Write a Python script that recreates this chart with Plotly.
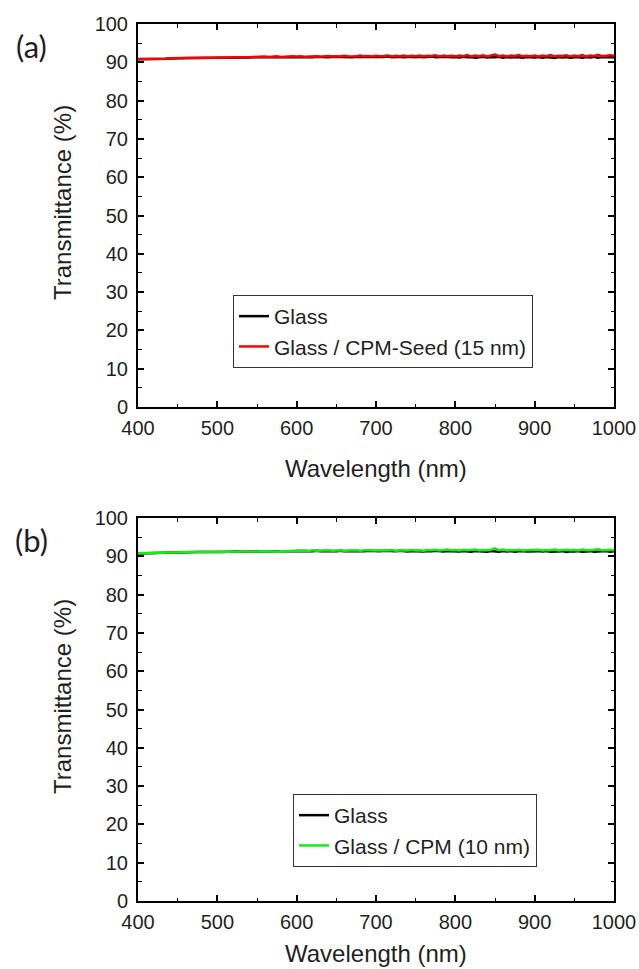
import plotly.graph_objects as go

# Sampling grid of the spectrophotometer scans (nm)
wavelength = list(range(400, 1001, 5))

# Panel (a): bare glass vs glass coated with CPM-Seed (15 nm), transmittance in %
glass_a = [
    90.8, 90.8, 90.8, 90.8, 90.85, 90.85, 90.9, 90.9,
    91.0, 91.05, 91.05, 91.05, 91.1, 91.1, 91.1, 91.1, 91.15, 91.1, 91.15, 91.15,
    91.15, 91.2, 91.15, 91.2, 91.2, 91.2, 91.25, 91.2, 91.25, 91.3,
    91.3, 91.25, 91.35, 91.3, 91.35, 91.3, 91.4, 91.35, 91.3, 91.4,
    91.35, 91.4, 91.3, 91.4, 91.35, 91.45, 91.35, 91.4, 91.3, 91.45,
    91.4, 91.35, 91.45, 91.4, 91.3, 91.45, 91.4, 91.5, 91.35, 91.4,
    91.45, 91.35, 91.4, 91.5, 91.35, 91.4, 91.45, 91.3, 91.4, 91.45,
    91.35, 91.45, 91.3, 91.4, 91.5, 91.3, 91.4, 91.35, 91.45, 91.3,
    91.4, 91.25, 91.45, 91.3, 91.4, 91.2, 91.35, 91.45, 91.25, 91.4,
    91.3, 91.45, 91.2, 91.35, 91.25, 91.4, 91.3, 91.2, 91.4, 91.3,
    91.25, 91.4, 91.2, 91.35, 91.3, 91.15, 91.4, 91.25, 91.35, 91.2,
    91.3, 91.4, 91.2, 91.35, 91.25, 91.45, 91.2, 91.35, 91.3, 91.25,
    91.3,
]
seed_a = [
    90.85, 90.85, 90.9, 90.85, 90.9, 90.9, 90.95, 90.95,
    91.05, 91.1, 91.05, 91.1, 91.15, 91.1, 91.15, 91.15, 91.2, 91.15, 91.2, 91.2,
    91.25, 91.2, 91.3, 91.25, 91.3, 91.35, 91.3, 91.4, 91.35, 91.4,
    91.45, 91.35, 91.5, 91.4, 91.45, 91.55, 91.4, 91.5, 91.45, 91.55,
    91.5, 91.6, 91.45, 91.55, 91.5, 91.6, 91.45, 91.55, 91.65, 91.5,
    91.6, 91.5, 91.7, 91.55, 91.6, 91.5, 91.75, 91.55, 91.65, 91.5,
    91.7, 91.55, 91.65, 91.8, 91.5, 91.7, 91.6, 91.75, 91.55, 91.7,
    91.6, 91.8, 91.55, 91.7, 91.65, 91.85, 91.5, 91.75, 91.6, 91.7,
    91.55, 91.8, 91.6, 91.9, 91.5, 91.75, 91.6, 91.85, 91.55, 91.7,
    92.0, 91.6, 91.8, 91.5, 91.75, 91.65, 91.9, 91.55, 91.7, 91.6,
    91.8, 91.5, 91.75, 91.6, 91.9, 91.55, 91.7, 91.65, 91.85, 91.5,
    91.75, 91.6, 91.9, 91.55, 91.8, 91.65, 91.95, 91.6, 91.75, 91.85,
    91.7,
]

# Panel (b): bare glass vs glass coated with CPM (10 nm), transmittance in %
glass_b = [
    90.75, 90.8, 90.8, 90.8, 90.8, 90.85, 90.85, 90.9,
    90.95, 91.0, 91.0, 91.05, 91.05, 91.05, 91.1, 91.1, 91.1, 91.15, 91.1, 91.15,
    91.15, 91.15, 91.2, 91.2, 91.2, 91.25, 91.2, 91.25, 91.3, 91.25,
    91.3, 91.3, 91.25, 91.35, 91.3, 91.35, 91.3, 91.4, 91.35, 91.3,
    91.4, 91.35, 91.3, 91.4, 91.35, 91.45, 91.3, 91.4, 91.35, 91.4,
    91.35, 91.45, 91.3, 91.4, 91.35, 91.45, 91.4, 91.3, 91.45, 91.35,
    91.4, 91.3, 91.45, 91.35, 91.4, 91.3, 91.45, 91.35, 91.25, 91.4,
    91.35, 91.45, 91.25, 91.4, 91.3, 91.45, 91.35, 91.25, 91.4, 91.3,
    91.35, 91.25, 91.4, 91.3, 91.2, 91.4, 91.3, 91.35, 91.2, 91.4,
    91.3, 91.2, 91.4, 91.25, 91.35, 91.2, 91.3, 91.4, 91.25, 91.3,
    91.2, 91.35, 91.25, 91.4, 91.2, 91.3, 91.25, 91.35, 91.15, 91.3,
    91.25, 91.4, 91.2, 91.3, 91.35, 91.2, 91.3, 91.25, 91.4, 91.2,
    91.3,
]
cpm_b = [
    90.8, 90.85, 90.85, 90.85, 90.9, 90.9, 90.9, 90.95,
    91.0, 91.0, 91.05, 91.05, 91.05, 91.1, 91.1, 91.1, 91.15, 91.1, 91.15, 91.15,
    91.15, 91.2, 91.15, 91.2, 91.2, 91.2, 91.25, 91.2, 91.25, 91.25,
    91.25, 91.3, 91.25, 91.3, 91.3, 91.25, 91.3, 91.35, 91.3, 91.35,
    91.45, 91.4, 91.5, 91.4, 91.55, 91.45, 91.5, 91.4, 91.55, 91.45,
    91.5, 91.6, 91.45, 91.55, 91.5, 91.6, 91.45, 91.55, 91.65, 91.5,
    91.55, 91.45, 91.6, 91.5, 91.65, 91.45, 91.55, 91.6, 91.5, 91.65,
    91.5, 91.6, 91.45, 91.65, 91.55, 91.7, 91.5, 91.6, 91.75, 91.55,
    91.65, 91.5, 91.7, 91.55, 91.6, 91.75, 91.5, 91.65, 91.55, 91.7,
    92.05, 91.6, 91.75, 91.5, 91.65, 91.55, 91.7, 91.5, 91.6, 91.65,
    91.55, 91.7, 91.5, 91.65, 91.6, 91.75, 91.5, 91.6, 91.7, 91.55,
    91.65, 91.5, 91.75, 91.6, 91.55, 91.7, 91.85, 91.6, 91.55, 91.7,
    91.6,
]

x_ticks = [400, 500, 600, 700, 800, 900, 1000]
y_ticks = [0, 10, 20, 30, 40, 50, 60, 70, 80, 90, 100]

W, H = 639, 969
FONT = "Liberation Sans"
INK = "#1f1f1f"

# Pixel geometry of the two stacked panels
PLOT_L, PLOT_R = 138, 614
PANELS = [(24, 407), (518, 901)]


def px_x(p):
    return p / W


def px_y(p):
    return 1 - p / H


fig = go.Figure()

fig.add_trace(go.Scatter(x=wavelength, y=glass_a, mode="lines", name="Glass",
                         line=dict(color="#000000", width=2.5),
                         xaxis="x", yaxis="y", legend="legend"))
fig.add_trace(go.Scatter(x=wavelength, y=seed_a, mode="lines",
                         name="Glass / CPM-Seed (15 nm)",
                         line=dict(color="#ff0000", width=2.5),
                         xaxis="x", yaxis="y", legend="legend"))
fig.add_trace(go.Scatter(x=wavelength, y=glass_b, mode="lines", name="Glass",
                         line=dict(color="#000000", width=2.5),
                         xaxis="x2", yaxis="y2", legend="legend2"))
fig.add_trace(go.Scatter(x=wavelength, y=cpm_b, mode="lines",
                         name="Glass / CPM (10 nm)",
                         line=dict(color="#11ee11", width=2.5),
                         xaxis="x2", yaxis="y2", legend="legend2"))

axis_common = dict(
    showline=True, linecolor="#000000", linewidth=2, mirror="ticks",
    ticks="inside", ticklen=6, tickwidth=1.5, tickcolor="#000000",
    showgrid=False, zeroline=False, automargin=False,
    tickfont=dict(family=FONT, size=20, color=INK),
)

xdom = [px_x(PLOT_L), px_x(PLOT_R)]
for i, (top, bot) in enumerate(PANELS):
    sfx = "" if i == 0 else str(i + 1)
    fig.update_layout(**{
        "xaxis" + sfx: dict(
            axis_common, domain=xdom, anchor="y" + sfx, range=[400, 1000],
            tickvals=x_ticks, ticklabelstandoff=2,
            minor=dict(dtick=50, tick0=400, ticks="inside", ticklen=3.5,
                       tickwidth=1.2, tickcolor="#000000"),
        ),
        "yaxis" + sfx: dict(
            axis_common, domain=[px_y(bot), px_y(top)], anchor="x" + sfx,
            range=[0, 100], tickvals=y_ticks, ticklabelstandoff=4,
            minor=dict(dtick=5, tick0=0, ticks="inside", ticklen=3.5,
                       tickwidth=1.2, tickcolor="#000000"),
        ),
    })

legend_style = dict(
    xanchor="left", yanchor="top", bgcolor="rgba(255,255,255,1)",
    bordercolor="#333333", borderwidth=1,
    font=dict(family=FONT, size=21, color=INK),
    tracegroupgap=0, itemwidth=30,
)
fig.update_layout(
    legend=dict(legend_style, x=px_x(233), y=px_y(295)),
    legend2=dict(legend_style, x=px_x(293), y=px_y(794)),
)

annotations = []
for label, (top, bot) in zip(["(a)", "(b)"], PANELS):
    annotations.append(dict(
        text=label, x=px_x(31), y=px_y(top + 22), xref="paper", yref="paper",
        showarrow=False, xanchor="center", yanchor="middle",
        font=dict(family="Lato, Open Sans, sans-serif", size=31, color=INK),
    ))
    annotations.append(dict(
        text="Transmittance (%)", x=px_x(62), y=px_y(top + 179),
        xref="paper", yref="paper", showarrow=False, textangle=-90,
        xanchor="center", yanchor="middle",
        font=dict(family=FONT, size=24, color=INK),
    ))
    annotations.append(dict(
        text="Wavelength (nm)", x=px_x((PLOT_L + PLOT_R) / 2), y=px_y(bot + 62),
        xref="paper", yref="paper", showarrow=False,
        xanchor="center", yanchor="middle",
        font=dict(family=FONT, size=24, color=INK),
    ))

# keep the lower axis title fully inside the page
annotations[-1]["y"] = px_y(953)

fig.update_layout(
    width=W, height=H, autosize=False,
    margin=dict(l=0, r=0, t=0, b=0),
    paper_bgcolor="#ffffff", plot_bgcolor="#ffffff",
    showlegend=True, annotations=annotations,
)

fig.write_html("out.html", config={"displayModeBar": False})
